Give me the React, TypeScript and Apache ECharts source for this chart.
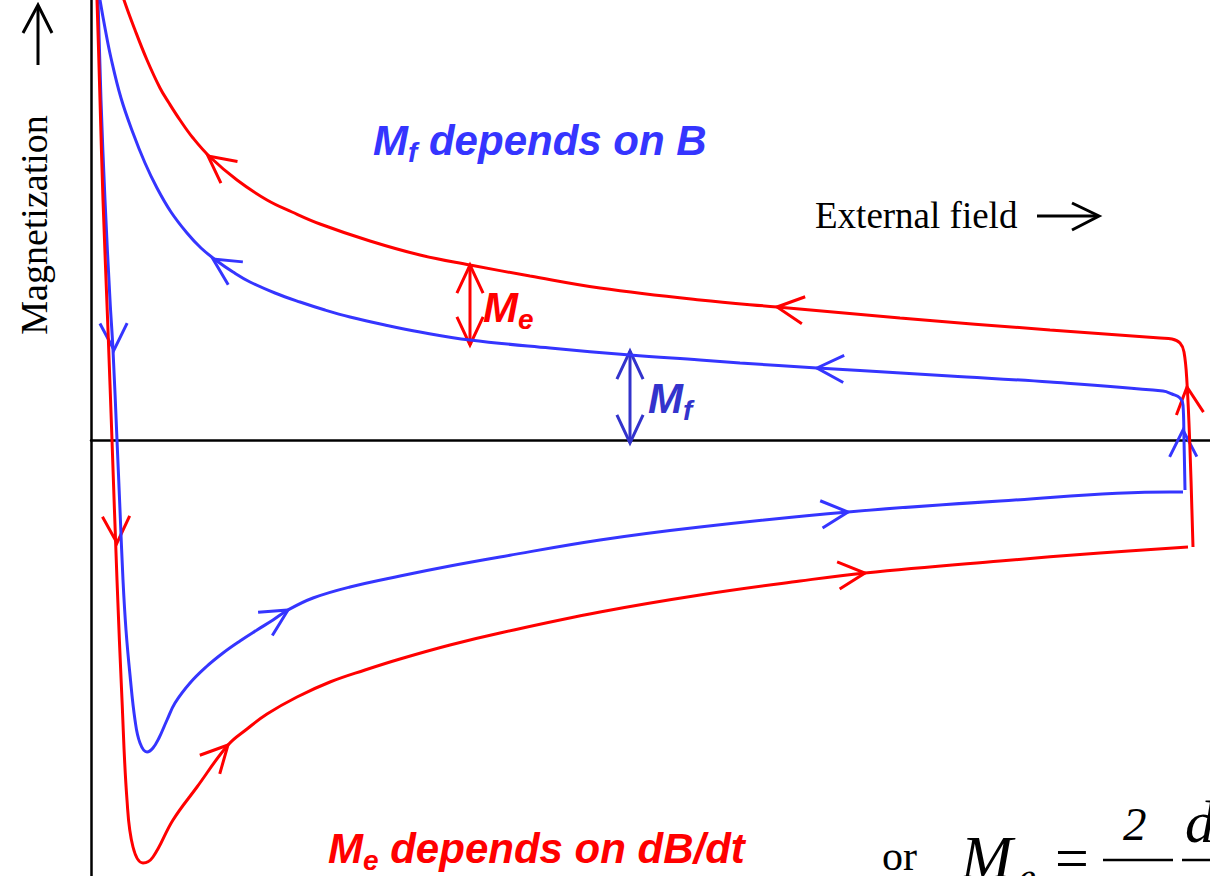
import React, { useEffect, useRef } from "react";
import * as echarts from "echarts";

// Units: field (x) and magnetization (y); zero field at the vertical axis, zero magnetization at the horizontal axis.
const fieldRange = [0, 1119];
const magnetizationRange = [-436, 440];

// Red loop (total magnetization, Me + Mf)
const redDescending: number[][] = [
  [5, 460], [6, 440], [9, 340], [12, 240], [17, 110], [21, 0], [26, -140], [31, -260], [36, -360],
  [42, -407], [52, -423], [62, -417], [82, -380], [106, -347], [137, -305], [156, -289],
  [176, -274], [206, -257], [239, -242], [274, -230], [309, -219], [359, -205], [409, -193],
  [509, -172], [609, -155], [709, -141], [774, -133], [909, -121], [1009, -113], [1097, -107],
];
const redAscending: number[][] = [
  [1102, -107], [1099, -10], [1096, 57], [1093, 88], [1089, 97], [1081, 101], [1069, 102],
  [959, 110], [809, 122], [686, 133], [609, 140], [509, 152], [439, 164], [379, 175], [329, 185],
  [279, 199], [229, 216], [201, 228], [176, 240], [146, 260], [119, 283], [102, 302], [89, 320],
  [78, 337], [69, 352], [56, 380], [44, 410], [33, 440], [27, 460],
];

// Blue loop (Mf)
const blueDescending: number[][] = [
  [6, 460], [7, 440], [10, 340], [14, 240], [19, 140], [22, 90], [26, 0], [29, -70], [32, -140],
  [35, -190], [39, -235], [44, -280], [49, -303], [56, -312], [62, -308], [68, -298], [76, -280],
  [84, -263], [99, -243], [115, -227], [132, -213], [149, -201], [166, -190], [182, -180],
  [197, -170], [222, -158], [259, -147], [309, -136], [359, -126], [409, -117], [509, -100],
  [609, -87], [757, -72], [909, -61], [1079, -52], [1092, -52],
];
const blueAscending: number[][] = [
  [1094, -50], [1093, 0], [1092, 35], [1089, 42], [1081, 46], [1072, 49], [959, 58],
  [859, 64], [769, 69.5], [726, 72], [649, 77], [609, 80], [539, 85], [459, 92], [379, 100],
  [329, 108], [294, 115], [259, 123], [234, 130], [209, 138], [184, 147], [159, 158],
  [142, 168], [126, 179], [110, 192], [96, 207], [80, 228], [66, 252], [54, 277], [42, 307],
  [30, 342], [20, 382], [14, 412], [9, 440], [5, 465],
];

// Direction arrows on the loops: [field, magnetization, direction in degrees]
const blueArrows: number[][] = [
  [122, 181, 147.5], [726, 72, 178], [197, -170, 31.5], [757, -72, 5], [23, 90, 271], [1092, 10, 90.5],
];
const redArrows: number[][] = [
  [117, 284, 142.5], [686, 133, 173], [137, -305, 47], [774, -133, 5.4], [26, -103, 272], [1096, 53, 96.3],
];

// Double-headed measurement arrows: [field, lower magnetization, upper magnetization]
const meSpan = [379, 95, 175];
const mfSpan = [539, -3, 89];

const RED = "#ff0000";
const BLUE = "#3535ff";
const DARK_BLUE = "#3333cc";

function head(x: number, y: number, dir: number, len = 30, half = 27): number[][] {
  const back = ((dir + 180) * Math.PI) / 180;
  const h = (half * Math.PI) / 180;
  return [
    [x + len * Math.cos(back - h), y + len * Math.sin(back - h)],
    [x, y],
    [x + len * Math.cos(back + h), y + len * Math.sin(back + h)],
  ];
}

function doubleArrow(span: number[]): { coords: number[][] }[] {
  const [x, lo, hi] = span;
  return [
    { coords: [[x, lo], [x, hi]] },
    { coords: head(x, hi, 90, 31, 25) },
    { coords: head(x, lo, 270, 31, 25) },
  ];
}

const sansBI = { fontFamily: '"Liberation Sans", Arial, sans-serif', fontWeight: "bold", fontStyle: "italic" };
const serif = '"Liberation Serif", "Times New Roman", serif';

function curve(data: number[][], color: string) {
  return {
    type: "line",
    data,
    smooth: 0.4,
    showSymbol: false,
    symbol: "none",
    lineStyle: { color, width: 3 },
    silent: true,
  };
}

function arrowSeries(items: { coords: number[][] }[], color: string) {
  return {
    type: "lines",
    coordinateSystem: "cartesian2d",
    polyline: true,
    silent: true,
    data: items,
    lineStyle: { color, width: 3, opacity: 1, curveness: 0 },
  };
}

function labelRich(color: string) {
  return {
    m: { ...sansBI, fontSize: 42, fill: color },
    s: { ...sansBI, fontSize: 28, fill: color, padding: [24, 0, 0, 0] },
  };
}

export default function App() {
  const ref = useRef<HTMLDivElement>(null);
  useEffect(() => {
    const chart = echarts.init(ref.current!, null, { renderer: "svg" });
    const option: any = {
      animation: false,
      backgroundColor: "#ffffff",
      grid: { left: 91, right: 0, top: 0, bottom: 0 },
      xAxis: {
        type: "value",
        min: fieldRange[0],
        max: fieldRange[1],
        axisLine: { show: true, onZero: true, lineStyle: { color: "#000", width: 2.5 } },
        axisTick: { show: false },
        axisLabel: { show: false },
        splitLine: { show: false },
      },
      yAxis: {
        type: "value",
        min: magnetizationRange[0],
        max: magnetizationRange[1],
        axisLine: { show: true, onZero: true, lineStyle: { color: "#000", width: 2.5 } },
        axisTick: { show: false },
        axisLabel: { show: false },
        splitLine: { show: false },
      },
      series: [
        curve(blueDescending, BLUE),
        curve(blueAscending, BLUE),
        arrowSeries(blueArrows.map((a) => ({ coords: head(a[0], a[1], a[2]) })), BLUE),
        curve(redDescending, RED),
        curve(redAscending, RED),
        arrowSeries(redArrows.map((a) => ({ coords: head(a[0], a[1], a[2]) })), RED),
        arrowSeries(doubleArrow(meSpan), RED),
        arrowSeries(doubleArrow(mfSpan), DARK_BLUE),
      ],
      graphic: [
        // axis titles
        {
          type: "text", x: 34, y: 225, rotation: Math.PI / 2,
          style: { text: "Magnetization", fontFamily: serif, fontSize: 38, fill: "#000", align: "center", verticalAlign: "middle" },
        },
        { type: "line", shape: { x1: 38, y1: 65, x2: 38, y2: 6 }, style: { stroke: "#000", lineWidth: 3 } },
        { type: "polyline", shape: { points: [[23, 33], [38, 5], [52, 33]] }, style: { stroke: "#000", lineWidth: 3, fill: "none" } },
        {
          type: "text", x: 815, y: 215,
          style: { text: "External field", fontFamily: serif, fontSize: 37, fill: "#000", align: "left", verticalAlign: "middle" },
        },
        { type: "line", shape: { x1: 1037, y1: 216, x2: 1098, y2: 216 }, style: { stroke: "#000", lineWidth: 3 } },
        { type: "polyline", shape: { points: [[1072, 203], [1099, 216], [1072, 230]] }, style: { stroke: "#000", lineWidth: 3, fill: "none" } },
        // headings
        {
          type: "text", x: 373, y: 140,
          style: { text: "{m|M}{s|f}{m| depends on B}", align: "left", verticalAlign: "middle", rich: labelRich(BLUE) },
        },
        {
          type: "text", x: 328, y: 848,
          style: { text: "{m|M}{s|e}{m| depends on dB/dt}", align: "left", verticalAlign: "middle", rich: labelRich(RED) },
        },
        {
          type: "text", x: 483, y: 307,
          style: { text: "{m|M}{s|e}", align: "left", verticalAlign: "middle", rich: labelRich(RED) },
        },
        {
          type: "text", x: 648, y: 398,
          style: { text: "{m|M}{s|f}", align: "left", verticalAlign: "middle", rich: labelRich(DARK_BLUE) },
        },
        // formula fragment (cut by the right and bottom edges, as in the original)
        { type: "text", x: 882, y: 856, style: { text: "or", fontFamily: serif, fontSize: 42, fill: "#000", align: "left", verticalAlign: "middle" } },
        { type: "text", x: 961, y: 857, style: { text: "M", fontFamily: serif, fontStyle: "italic", fontSize: 62, fill: "#000", align: "left", verticalAlign: "middle" } },
        { type: "text", x: 1018, y: 877, style: { text: "e", fontFamily: serif, fontStyle: "italic", fontSize: 40, fill: "#000", align: "left", verticalAlign: "middle" } },
        { type: "text", x: 1055, y: 858, style: { text: "=", fontFamily: serif, fontSize: 60, fill: "#000", align: "left", verticalAlign: "middle" } },
        { type: "line", shape: { x1: 1103, y1: 860, x2: 1173, y2: 860 }, style: { stroke: "#000", lineWidth: 2.5 } },
        { type: "text", x: 1123, y: 824, style: { text: "2", fontFamily: serif, fontStyle: "italic", fontSize: 47, fill: "#000", align: "left", verticalAlign: "middle" } },
        { type: "line", shape: { x1: 1182, y1: 860, x2: 1215, y2: 860 }, style: { stroke: "#000", lineWidth: 2.5 } },
        { type: "text", x: 1185, y: 822, style: { text: "d", fontFamily: serif, fontStyle: "italic", fontSize: 60, fill: "#000", align: "left", verticalAlign: "middle" } },
      ],
    };
    chart.setOption(option);
    return () => chart.dispose();
  }, []);
  return (
    <div
      ref={ref}
      style={{ position: "fixed", left: 0, top: 0, width: 1210, height: 876, background: "#fff" }}
    />
  );
}
